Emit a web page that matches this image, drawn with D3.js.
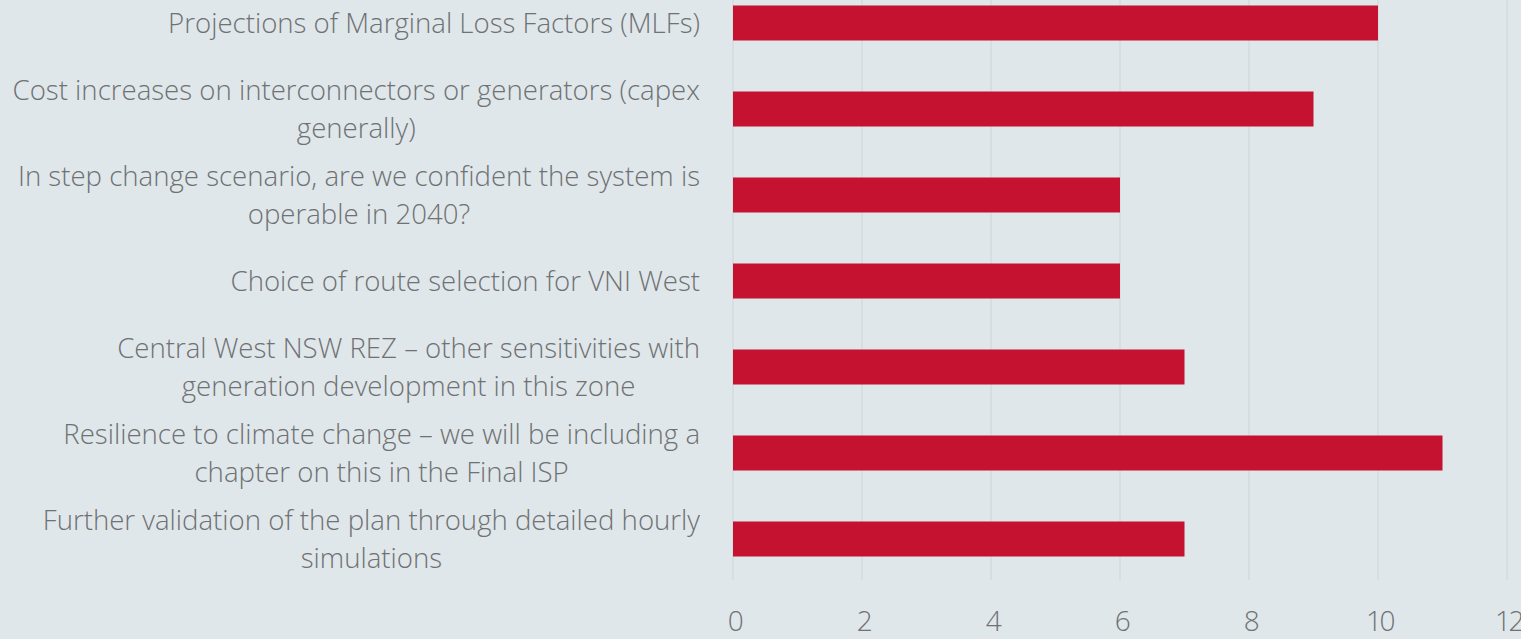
<!DOCTYPE html>
<html>
<head>
<meta charset="utf-8">
<script src="https://cdn.jsdelivr.net/npm/d3@7"></script>
<style>
  html, body { margin: 0; padding: 0; background: #dfe7ea; }
  svg { display: block; }
</style>
</head>
<body>
<div id="chart"></div>
<script>
// chart data
const categories = [
    ['Projections of Marginal Loss Factors (MLFs)'],
    ['Cost increases on interconnectors or generators (capex', 'generally)'],
    ['In step change scenario, are we confident the system is', 'operable in 2040?'],
    ['Choice of route selection for VNI West'],
    ['Central West NSW REZ \u2013 other sensitivities with', 'generation development in this zone'],
    ['Resilience to climate change \u2013 we will be including a', 'chapter on this in the Final ISP'],
    ['Further validation of the plan through detailed hourly', 'simulations']
];
const values = [10, 9, 6, 6, 7, 11, 7];
const xTicks = [0, 2, 4, 6, 8, 10, 12];

const width = 1521;
const height = 639;

const svg = d3.select('#chart')
    .append('svg')
    .attr('width', width)
    .attr('height', height);

svg.append('rect')
    .attr('width', width)
    .attr('height', height)
    .attr('fill', '#dfe7ea');

const keys = categories.map((c, i) => i);

const xScale = d3.scaleLinear()
    .domain([0, 12])
    .range([733, 1507]);

const yScale = d3.scaleBand()
    .domain(keys)
    .range([-20, 582])
    .paddingInner(0.593)
    .paddingOuter(0.2965);

// vertical gridlines
svg.append('g')
    .selectAll('line')
    .data(xTicks)
    .enter()
    .append('line')
    .attr('x1', d => xScale(d))
    .attr('x2', d => xScale(d))
    .attr('y1', 0)
    .attr('y2', 580)
    .attr('stroke', '#d3d9dc')
    .attr('stroke-width', 1.3);

// bars
svg.append('g')
    .selectAll('rect')
    .data(values)
    .enter()
    .append('rect')
    .attr('x', xScale(0))
    .attr('y', (d, i) => yScale(i))
    .attr('width', d => xScale(d) - xScale(0))
    .attr('height', yScale.bandwidth())
    .attr('fill', '#c41230');

// x axis, labels only
const xAxis = d3.axisBottom(xScale)
    .tickValues(xTicks)
    .tickSize(0)
    .tickPadding(0);

const gx = svg.append('g')
    .attr('transform', 'translate(0, 631)')
    .call(xAxis);
gx.select('.domain').remove();
gx.selectAll('text')
    .attr('fill', '#6f7173')
    .attr('y', 0)
    .attr('dy', 0)
    .attr('dx', '1px')
    .style('font-family', '"Open Sans", sans-serif')
    .style('font-weight', 300)
    .style('font-size', '28px')
    .style('letter-spacing', '-2.5px');

// category labels (wrapped lines)
const lineGap = 38;
const labels = svg.append('g')
    .selectAll('text')
    .data(categories)
    .enter()
    .append('text')
    .attr('text-anchor', 'middle')
    .attr('fill', '#6f7173')
    .style('font-family', '"Open Sans", sans-serif')
    .style('font-weight', 300)
    .style('font-size', '27.6px');

labels.each(function(lines, i) {
    const cy = yScale(i) + yScale.bandwidth() / 2;
    const t = d3.select(this);
    lines.forEach((line, j) => {
        t.append('tspan')
            .attr('y', cy + (j - (lines.length - 1) / 2) * lineGap)
            .attr('dy', '0.35em')
            .text(line);
    });
});

// right-align the block of lines at x=700, centre the shorter lines under the longest
labels.each(function() {
    const spans = d3.select(this).selectAll('tspan').nodes();
    const w = d3.max(spans, s => s.getComputedTextLength());
    spans.forEach(s => d3.select(s).attr('x', 700 - w / 2));
});
</script>
</body>
</html>
